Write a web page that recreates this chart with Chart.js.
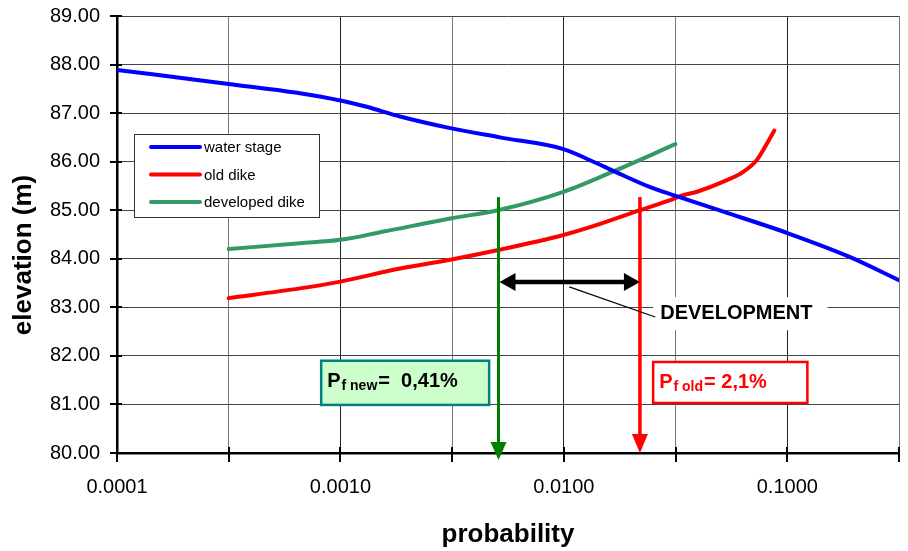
<!DOCTYPE html>
<html><head><meta charset="utf-8">
<script src="https://cdn.jsdelivr.net/npm/chart.js@4.4.0/dist/chart.umd.min.js"></script>
<style>html,body{margin:0;padding:0;background:#fff}#wrap{width:908px;height:551px;position:relative}</style>
</head><body><div id="wrap"><canvas id="c"></canvas></div>
<script>
// ---- data ----
const waterP    = [0.0001,0.000316,0.000659,0.001,0.00131,0.00185,0.0031,0.00517,0.00996,0.0131,0.0172,0.0242,0.0309,0.0518,0.1,0.19,0.316];
const waterElev = [87.89,87.60,87.41,87.26,87.13,86.93,86.69,86.50,86.26,86.03,85.78,85.48,85.31,84.97,84.53,84.04,83.56];
const oldP      = [0.000316,0.000659,0.001,0.00185,0.0031,0.00509,0.00996,0.0131,0.0219,0.0316,0.0331,0.0394,0.0518,0.0635,0.0729,0.0796,0.0875];
const oldElev   = [83.19,83.39,83.53,83.80,83.98,84.18,84.49,84.65,85.00,85.25,85.29,85.38,85.59,85.79,86.03,86.31,86.64];
const devP      = [0.000316,0.000659,0.001,0.00156,0.0031,0.00506,0.00996,0.01726,0.0316];
const devElev   = [84.20,84.32,84.39,84.56,84.83,85.00,85.38,85.83,86.36];
const seriesNames = ['water stage','old dike','developed dike'];
const xTickValues = [0.0001,0.00031623,0.001,0.0031623,0.01,0.031623,0.1,0.31623];
const yMin = 80, yMax = 89;
// annotation values
const pfNew = 0.0051, pfOld = 0.0219, arrowTopElev = 85.27;
const devArrowElev = 83.52;
const labelNew = ['P','f new','=  0,41%'];
const labelOld = ['P','f old','= 2,1%'];
const devText = 'DEVELOPMENT';

const FONT = '"Liberation Sans", Arial, sans-serif';
Chart.defaults.font.family = FONT;
Chart.defaults.color = '#000';
const isDecade = v => Math.abs(Math.log10(v) - Math.round(Math.log10(v))) < 1e-6;
const colors = ['#0000ff','#ff0000','#339966'];

const pts = (xs, ys) => xs.map((v,i)=>({x:v,y:ys[i]}));

function vArrow(ctx, px, yTop, yTip, color, lw, headLen, headW){
  ctx.strokeStyle=color; ctx.fillStyle=color; ctx.lineWidth=lw;
  ctx.beginPath(); ctx.moveTo(px,yTop); ctx.lineTo(px,yTip-headLen+2); ctx.stroke();
  ctx.beginPath(); ctx.moveTo(px,yTip); ctx.lineTo(px-headW/2,yTip-headLen); ctx.lineTo(px+headW/2,yTip-headLen); ctx.closePath(); ctx.fill();
}

const annot = {
  id:'annot',
  afterDraw(chart){
    const {ctx, chartArea:ca, scales:{x,y}} = chart;
    const X = v => x.getPixelForValue(v), Y = v => y.getPixelForValue(v);
    ctx.save();
    // tick marks crossing the axes
    ctx.strokeStyle='#000'; ctx.lineWidth=2;
    y.ticks.forEach(t=>{const py=Math.round(Y(t.value)); ctx.beginPath(); ctx.moveTo(ca.left-7,py); ctx.lineTo(ca.left+5,py); ctx.stroke();});
    x.ticks.forEach(t=>{const px=Math.round(X(t.value)); ctx.beginPath(); ctx.moveTo(px,ca.bottom-6); ctx.lineTo(px,ca.bottom+9); ctx.stroke();});

    // y axis title
    ctx.save();
    ctx.translate(24, 255); ctx.rotate(-Math.PI/2);
    ctx.font = 'bold 26px '+FONT; ctx.textAlign='center'; ctx.textBaseline='middle'; ctx.fillStyle='#000';
    ctx.fillText('elevation (m)',0,0);
    ctx.restore();

    // legend
    const lx = ca.left+17, ly = ca.top+118, lw = 185, lh = 83;
    ctx.fillStyle='#fff'; ctx.fillRect(lx,ly,lw,lh);
    ctx.strokeStyle='#333'; ctx.lineWidth=1; ctx.strokeRect(lx+0.5,ly+0.5,lw,lh);
    ctx.font='15px '+FONT; ctx.textBaseline='middle'; ctx.textAlign='left';
    chart.data.datasets.forEach((ds,i)=>{
      const ry = ly+13+i*27.5;
      ctx.strokeStyle=ds.borderColor; ctx.lineWidth=4; ctx.lineCap='round';
      ctx.beginPath(); ctx.moveTo(lx+17,ry); ctx.lineTo(lx+66,ry); ctx.stroke();
      ctx.fillStyle='#000'; ctx.fillText(ds.label, lx+70, ry+1);
    });
    ctx.lineCap='butt';

    // vertical arrows
    vArrow(ctx, X(pfNew), Y(arrowTopElev), Y(yMin)+7, '#008000', 3, 18, 16);
    vArrow(ctx, X(pfOld), Y(arrowTopElev), Y(yMin), '#ff0000', 3.5, 19, 16);

    // double arrow
    const ax1 = X(pfNew)+1, ax2 = X(pfOld), ay = Y(devArrowElev);
    ctx.strokeStyle='#000'; ctx.fillStyle='#000'; ctx.lineWidth=4.5;
    ctx.beginPath(); ctx.moveTo(ax1+14,ay); ctx.lineTo(ax2-14,ay); ctx.stroke();
    ctx.beginPath(); ctx.moveTo(ax1,ay); ctx.lineTo(ax1+16,ay-9); ctx.lineTo(ax1+16,ay+9); ctx.closePath(); ctx.fill();
    ctx.beginPath(); ctx.moveTo(ax2,ay); ctx.lineTo(ax2-16,ay-9); ctx.lineTo(ax2-16,ay+9); ctx.closePath(); ctx.fill();

    // DEVELOPMENT label with white background and leader line
    const tx = X(0.0270), ty = Y(82.88);
    ctx.font='bold 20px '+FONT;
    const tw = ctx.measureText(devText).width;
    ctx.fillStyle='#fff'; ctx.fillRect(tx-7, ty-16, tw+22, 33);
    ctx.strokeStyle='#000'; ctx.lineWidth=1.2;
    ctx.beginPath(); ctx.moveTo(X(0.01057),Y(83.42)); ctx.lineTo(X(0.02565),Y(82.80)); ctx.stroke();
    ctx.fillStyle='#000'; ctx.textBaseline='middle'; ctx.fillText(devText, tx, ty);

    // probability boxes
    function pBox(p1,p2,e1,e2,fill,stroke,textColor,parts){
      const bx=X(p1), bx2=X(p2), by=Y(e1), by2=Y(e2);
      ctx.fillStyle=fill; ctx.fillRect(bx,by,bx2-bx,by2-by);
      ctx.strokeStyle=stroke; ctx.lineWidth=2.5; ctx.strokeRect(bx,by,bx2-bx,by2-by);
      ctx.fillStyle=textColor; ctx.textBaseline='alphabetic'; ctx.textAlign='left';
      let cx = bx+6; const base = by+26;
      ctx.font='bold 20px '+FONT; ctx.fillText(parts[0],cx,base); cx+=ctx.measureText(parts[0]).width+1;
      ctx.font='bold 14px '+FONT; ctx.fillText(parts[1],cx,base+3); cx+=ctx.measureText(parts[1]).width+1;
      ctx.font='bold 20px '+FONT; ctx.fillText(parts[2],cx,base);
    }
    pBox(0.00082,0.00463,81.90,80.99,'#ccffcc','#008080','#000',labelNew);
    pBox(0.0251,0.123,81.875,81.03,'#ffffff','#ff0000','#ff0000',labelOld);
    ctx.restore();
  }
};

new Chart(document.getElementById('c'), {
  type:'line',
  data:{datasets:[
    {label:seriesNames[0], data:pts(waterP,waterElev), borderColor:colors[0]},
    {label:seriesNames[1], data:pts(oldP,oldElev), borderColor:colors[1]},
    {label:seriesNames[2], data:pts(devP,devElev), borderColor:colors[2]}
  ]},
  options:{
    responsive:true, maintainAspectRatio:false, animation:false,
    layout:{padding:{left:0,right:9,top:16,bottom:0}},
    elements:{line:{borderWidth:4, cubicInterpolationMode:'monotone', borderCapStyle:'round', borderJoinStyle:'round'}, point:{radius:0}},
    plugins:{legend:{display:false}, tooltip:{enabled:false}},
    scales:{
      x:{type:'logarithmic', min:xTickValues[0], max:xTickValues[xTickValues.length-1],
        afterBuildTicks:s=>{s.ticks = xTickValues.map(v=>({value:v}));},
        afterFit:s=>{s.height=98; s.paddingLeft=0; s.paddingRight=0;},
        ticks:{autoSkip:false, maxRotation:0, padding:22, font:{size:20}, color:'#000',
          callback:v=> isDecade(v) ? v.toFixed(4) : ''},
        grid:{drawTicks:false, color:c=> (c.tick && isDecade(c.tick.value)) ? '#222' : '#777', lineWidth:1},
        border:{color:'#000', width:2.5},
        title:{display:true, text:'probability', font:{size:26, weight:'bold'}, color:'#000', padding:{top:0,bottom:1}}
      },
      y:{min:yMin, max:yMax,
        afterFit:s=>{s.width=117; s.paddingTop=0; s.paddingBottom=0;},
        ticks:{stepSize:1, padding:17, font:{size:20}, color:'#000', callback:v=>Number(v).toFixed(2)},
        grid:{drawTicks:false, color:'#444', lineWidth:1},
        border:{color:'#000', width:2.5}
      }
    }
  },
  plugins:[annot]
});
</script></body></html>
